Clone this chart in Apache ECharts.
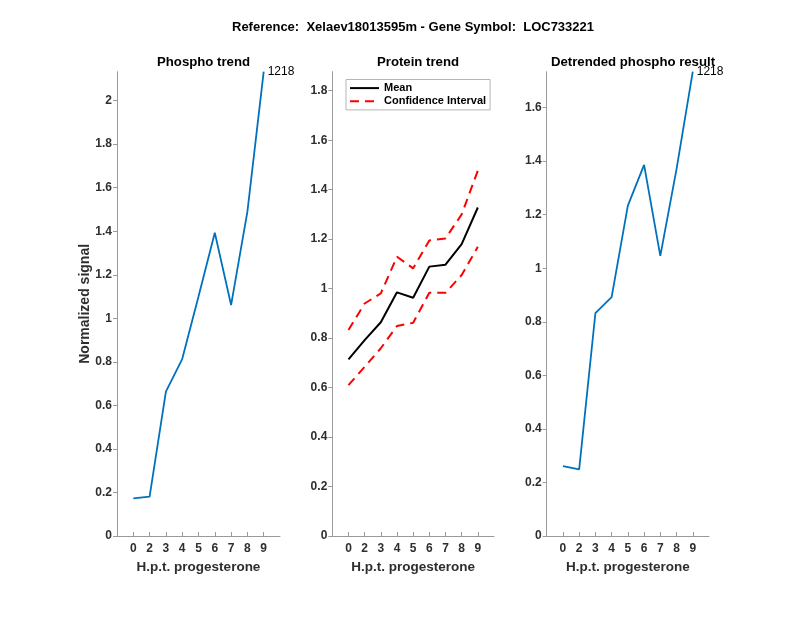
<!DOCTYPE html>
<html>
<head>
<meta charset="utf-8">
<script src="https://cdn.jsdelivr.net/npm/echarts@6/dist/echarts.min.js"></script>
<style>html,body{margin:0;padding:0;background:#fff}#c{width:800px;height:618px}</style>
</head>
<body>
<div id="c"></div>
<script>
const hours = ['0','2','3','4','5','6','7','8','9'];
const phospho = [0.173, 0.181, 0.663, 0.813, 1.10, 1.393, 1.061, 1.49, 2.133];
const proteinMean = [0.714, 0.792, 0.864, 0.985, 0.963, 1.089, 1.097, 1.18, 1.328];
const proteinUpper = [0.833, 0.94, 0.981, 1.129, 1.082, 1.195, 1.203, 1.30, 1.477];
const proteinLower = [0.610, 0.684, 0.759, 0.849, 0.862, 0.983, 0.983, 1.055, 1.169];
const detrended = [0.261, 0.249, 0.832, 0.892, 1.234, 1.386, 1.046, 1.37, 1.734];
const yTicks1 = [0, 0.2, 0.4, 0.6, 0.8, 1, 1.2, 1.4, 1.6, 1.8, 2];
const yTicks2 = [0, 0.2, 0.4, 0.6, 0.8, 1, 1.2, 1.4, 1.6, 1.8];
const yTicks3 = [0, 0.2, 0.4, 0.6, 0.8, 1, 1.2, 1.4, 1.6];
const yMax = [2.133, 1.877, 1.734];
const pointLabel = '1218';
const mainTitle = 'Reference:  Xelaev18013595m - Gene Symbol:  LOC733221';
const panelTitles = ['Phospho trend', 'Protein trend', 'Detrended phospho result'];

const FONT = "'Liberation Sans', Arial, Helvetica, sans-serif";
const AX = '#9a9a9a';
const TXT = '#2e2e2e';
const xPos = hours.map((h, i) => i + 1);
const toXY = arr => arr.map((v, i) => [i + 1, v]);

const grids = [
  {left: 117, top: 71.7, width: 163, height: 464.3},
  {left: 332.3, top: 71.7, width: 161.7, height: 464.3},
  {left: 546.7, top: 71.7, width: 162.3, height: 464.3}
];

function xAxis(gi) {
  return {
    type: 'value', gridIndex: gi, min: 0, max: 10,
    name: 'H.p.t. progesterone', nameLocation: 'middle', nameGap: 24,
    nameTextStyle: {fontFamily: FONT, fontSize: 13.5, fontWeight: 'bold', color: TXT},
    axisLine: {show: true, onZero: false, lineStyle: {color: AX, width: 1}},
    axisTick: {show: true, inside: true, length: 4, customValues: xPos, lineStyle: {color: AX}},
    axisLabel: {customValues: xPos, formatter: v => hours[Math.round(v) - 1], margin: 7,
      fontFamily: FONT, fontSize: 12, fontWeight: 'bold', color: TXT},
    splitLine: {show: false}
  };
}
function yAxis(gi, ticks, max, name) {
  return {
    type: 'value', gridIndex: gi, min: 0, max: max,
    name: name || '', nameLocation: 'middle', nameGap: 25, nameMoveOverlap: false,
    nameTextStyle: {fontFamily: FONT, fontSize: 14, fontWeight: 'bold', color: TXT},
    axisLine: {show: true, onZero: false, lineStyle: {color: AX, width: 1}},
    axisTick: {show: true, inside: false, length: 4, customValues: ticks, lineStyle: {color: AX}},
    axisLabel: {customValues: ticks, margin: 5,
      fontFamily: FONT, fontSize: 12, fontWeight: 'bold', color: TXT},
    splitLine: {show: false}
  };
}
const endLabel = {
  show: true, formatter: pointLabel, distance: 4,
  fontFamily: FONT, fontSize: 12, color: '#000'
};

const option = {
  animation: false,
  backgroundColor: '#fff',
  title: [
    {text: mainTitle, left: 408, top: 16, textAlign: 'center',
      textStyle: {fontFamily: FONT, fontSize: 13, fontWeight: 'bold', color: '#000'}},
    {text: panelTitles[0], left: 198.5, top: 51, textAlign: 'center',
      textStyle: {fontFamily: FONT, fontSize: 13.2, fontWeight: 'bold', color: '#000'}},
    {text: panelTitles[1], left: 413, top: 51, textAlign: 'center',
      textStyle: {fontFamily: FONT, fontSize: 13.2, fontWeight: 'bold', color: '#000'}},
    {text: panelTitles[2], left: 628, top: 51, textAlign: 'center',
      textStyle: {fontFamily: FONT, fontSize: 13.2, fontWeight: 'bold', color: '#000'}}
  ],
  legend: {
    left: 346, top: 79.5, orient: 'vertical',
    data: ['Mean', 'Confidence Interval'],
    backgroundColor: '#fff', borderColor: '#b5b5b5', borderWidth: 1, borderRadius: 0,
    padding: [3, 4, 3, 3], itemGap: 2, itemWidth: 29, itemHeight: 14,
    itemStyle: {opacity: 0},
    textStyle: {fontFamily: FONT, fontSize: 11, fontWeight: 'bold', color: '#000'}
  },
  grid: grids,
  xAxis: [xAxis(0), xAxis(1), xAxis(2)],
  yAxis: [yAxis(0, yTicks1, yMax[0], 'Normalized signal'), yAxis(1, yTicks2, yMax[1]), yAxis(2, yTicks3, yMax[2])],
  series: [
    {type: 'line', name: 'Phospho', xAxisIndex: 0, yAxisIndex: 0, data: toXY(phospho),
      symbol: 'none', itemStyle: {color: '#0072BD'},
      lineStyle: {color: '#0072BD', width: 1.8}, endLabel: endLabel},
    {type: 'line', name: 'Mean', xAxisIndex: 1, yAxisIndex: 1, data: toXY(proteinMean),
      symbol: 'none', itemStyle: {color: '#000'}, lineStyle: {color: '#000', width: 2}},
    {type: 'line', name: 'Confidence Interval', xAxisIndex: 1, yAxisIndex: 1, data: toXY(proteinUpper),
      symbol: 'none', itemStyle: {color: '#ff0000'}, lineStyle: {color: '#ff0000', width: 2, type: [9, 6]}},
    {type: 'line', name: 'Confidence Interval', xAxisIndex: 1, yAxisIndex: 1, data: toXY(proteinLower),
      symbol: 'none', itemStyle: {color: '#ff0000'}, lineStyle: {color: '#ff0000', width: 2, type: [9, 6]}},
    {type: 'line', name: 'Detrended', xAxisIndex: 2, yAxisIndex: 2, data: toXY(detrended),
      symbol: 'none', itemStyle: {color: '#0072BD'},
      lineStyle: {color: '#0072BD', width: 1.8}, endLabel: endLabel}
  ]
};
const chart = echarts.init(document.getElementById('c'), null, {renderer: 'canvas'});
chart.setOption(option);
</script>
</body>
</html>
